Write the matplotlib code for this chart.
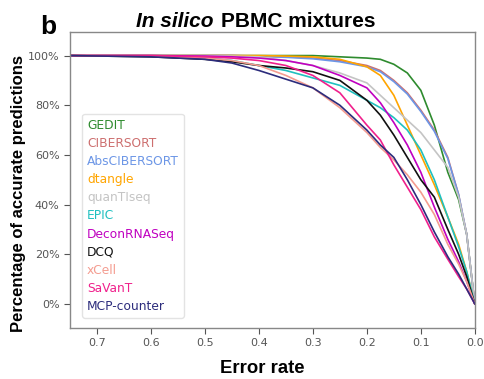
import matplotlib
matplotlib.use("Agg")
import matplotlib.pyplot as plt
from matplotlib.ticker import PercentFormatter

# ------------------------------------------------------------
# Data
# ------------------------------------------------------------

error_rate = [0.75, 0.6, 0.5, 0.45, 0.4, 0.35, 0.3, 0.25, 0.2, 0.175,
              0.15, 0.125, 0.1, 0.075, 0.05, 0.03, 0.015, 0.0]

gedit = [1.0, 1.0, 1.0, 1.0, 1.0, 1.0, 1.0, 0.995, 0.99, 0.985,
         0.965, 0.93, 0.86, 0.72, 0.53, 0.42, 0.28, 0.0]
cibersort = [1.0, 1.0, 1.0, 1.0, 0.998, 0.995, 0.99, 0.98, 0.96, 0.94,
             0.90, 0.85, 0.78, 0.70, 0.59, 0.44, 0.28, 0.0]
abscibersort = [1.0, 1.0, 1.0, 1.0, 0.997, 0.993, 0.987, 0.975, 0.955, 0.935,
                0.895, 0.845, 0.775, 0.695, 0.585, 0.44, 0.28, 0.0]
dtangle = [1.0, 1.0, 1.0, 1.0, 1.0, 0.998, 0.995, 0.985, 0.955, 0.92,
           0.84, 0.72, 0.60, 0.48, 0.35, 0.24, 0.13, 0.0]
quantiseq = [1.0, 1.0, 1.0, 0.998, 0.995, 0.98, 0.96, 0.93, 0.89, 0.84,
             0.79, 0.74, 0.69, 0.62, 0.55, 0.43, 0.28, 0.0]
epic = [1.0, 0.998, 0.99, 0.98, 0.96, 0.94, 0.91, 0.88, 0.82, 0.79,
        0.75, 0.70, 0.62, 0.50, 0.35, 0.23, 0.13, 0.0]
deconrnaseq = [1.0, 1.0, 0.998, 0.995, 0.99, 0.98, 0.96, 0.92, 0.87, 0.81,
               0.73, 0.64, 0.53, 0.39, 0.26, 0.17, 0.09, 0.0]
dcq = [1.0, 0.995, 0.985, 0.975, 0.96, 0.95, 0.935, 0.90, 0.82, 0.76,
       0.68, 0.59, 0.50, 0.43, 0.30, 0.20, 0.11, 0.0]
xcell = [1.0, 0.998, 0.99, 0.98, 0.96, 0.92, 0.87, 0.79, 0.69, 0.63,
         0.58, 0.52, 0.45, 0.36, 0.24, 0.16, 0.09, 0.0]
savant = [1.0, 1.0, 0.995, 0.99, 0.98, 0.96, 0.92, 0.85, 0.72, 0.66,
          0.56, 0.47, 0.38, 0.27, 0.18, 0.11, 0.06, 0.0]
mcp_counter = [1.0, 0.995, 0.985, 0.97, 0.94, 0.905, 0.87, 0.80, 0.70, 0.64,
               0.59, 0.50, 0.40, 0.29, 0.19, 0.12, 0.06, 0.0]

method_names = ["GEDIT", "CIBERSORT", "AbsCIBERSORT", "dtangle", "quanTIseq",
                "EPIC", "DeconRNASeq", "DCQ", "xCell", "SaVanT", "MCP-counter"]
method_values = [gedit, cibersort, abscibersort, dtangle, quantiseq,
                 epic, deconrnaseq, dcq, xcell, savant, mcp_counter]
method_colors = ["#2e8b2e", "#cd6f6f", "#6c96e6", "#ffa500", "#c4c4c4",
                 "#20c0c0", "#c000c0", "#111111", "#f49c90", "#f0208c", "#2c2c7c"]

# ------------------------------------------------------------
# Figure
# ------------------------------------------------------------

fig = plt.figure(figsize=(4.84, 3.79), dpi=100)
ax = fig.add_axes([0.1446, 0.1346, 0.8364, 0.781])

for name, values, color in zip(method_names, method_values, method_colors):
    ax.plot(error_rate, values, color=color, linewidth=1.2, label=name)

ax.set_xlim(0.75, 0.0)
ax.set_ylim(-0.097, 1.095)
ax.set_xticks([0.7, 0.6, 0.5, 0.4, 0.3, 0.2, 0.1, 0.0])
ax.set_xticklabels(["0.7", "0.6", "0.5", "0.4", "0.3", "0.2", "0.1", "0.0"])
ax.set_yticks([0.0, 0.2, 0.4, 0.6, 0.8, 1.0])
ax.yaxis.set_major_formatter(PercentFormatter(1.0, decimals=0))

ax.tick_params(labelsize=8, colors="#555555", length=4, width=0.8)
for spine in ax.spines.values():
    spine.set_color("#888888")
    spine.set_linewidth(1.0)

legend = ax.legend(loc="lower left", bbox_to_anchor=(0.03, 0.034),
                   borderaxespad=0, handlelength=0, handletextpad=0,
                   fontsize=8.8, labelspacing=0.42, frameon=True)
legend.get_frame().set_edgecolor("#dddddd")
for text, color in zip(legend.get_texts(), method_colors):
    text.set_color(color)

# axis labels (placed by hand, as in the original panel)
fig.text(262 / 484, 1 - 373 / 379, "Error rate", fontsize=13.3, fontweight="bold",
         family="Liberation Sans", ha="center", va="baseline")
fig.text(19 / 484, 1 - 193 / 379, "Percentage of accurate predictions",
         fontsize=12, fontweight="bold", family="Liberation Sans",
         rotation=90, ha="center", va="center")

# title with italic part
fig.text(214 / 484, 1 - 27 / 379, "In silico", fontsize=15, fontweight="bold",
         style="italic", family="Liberation Sans", ha="right", va="baseline")
fig.text(221 / 484, 1 - 27 / 379, "PBMC mixtures", fontsize=15, fontweight="bold",
         family="Liberation Sans", ha="left", va="baseline")
fig.text(40 / 484, 1 - 34 / 379, "b", fontsize=19, fontweight="bold",
         family="Liberation Sans", ha="left", va="baseline")

fig.savefig("out.png", dpi=100)
